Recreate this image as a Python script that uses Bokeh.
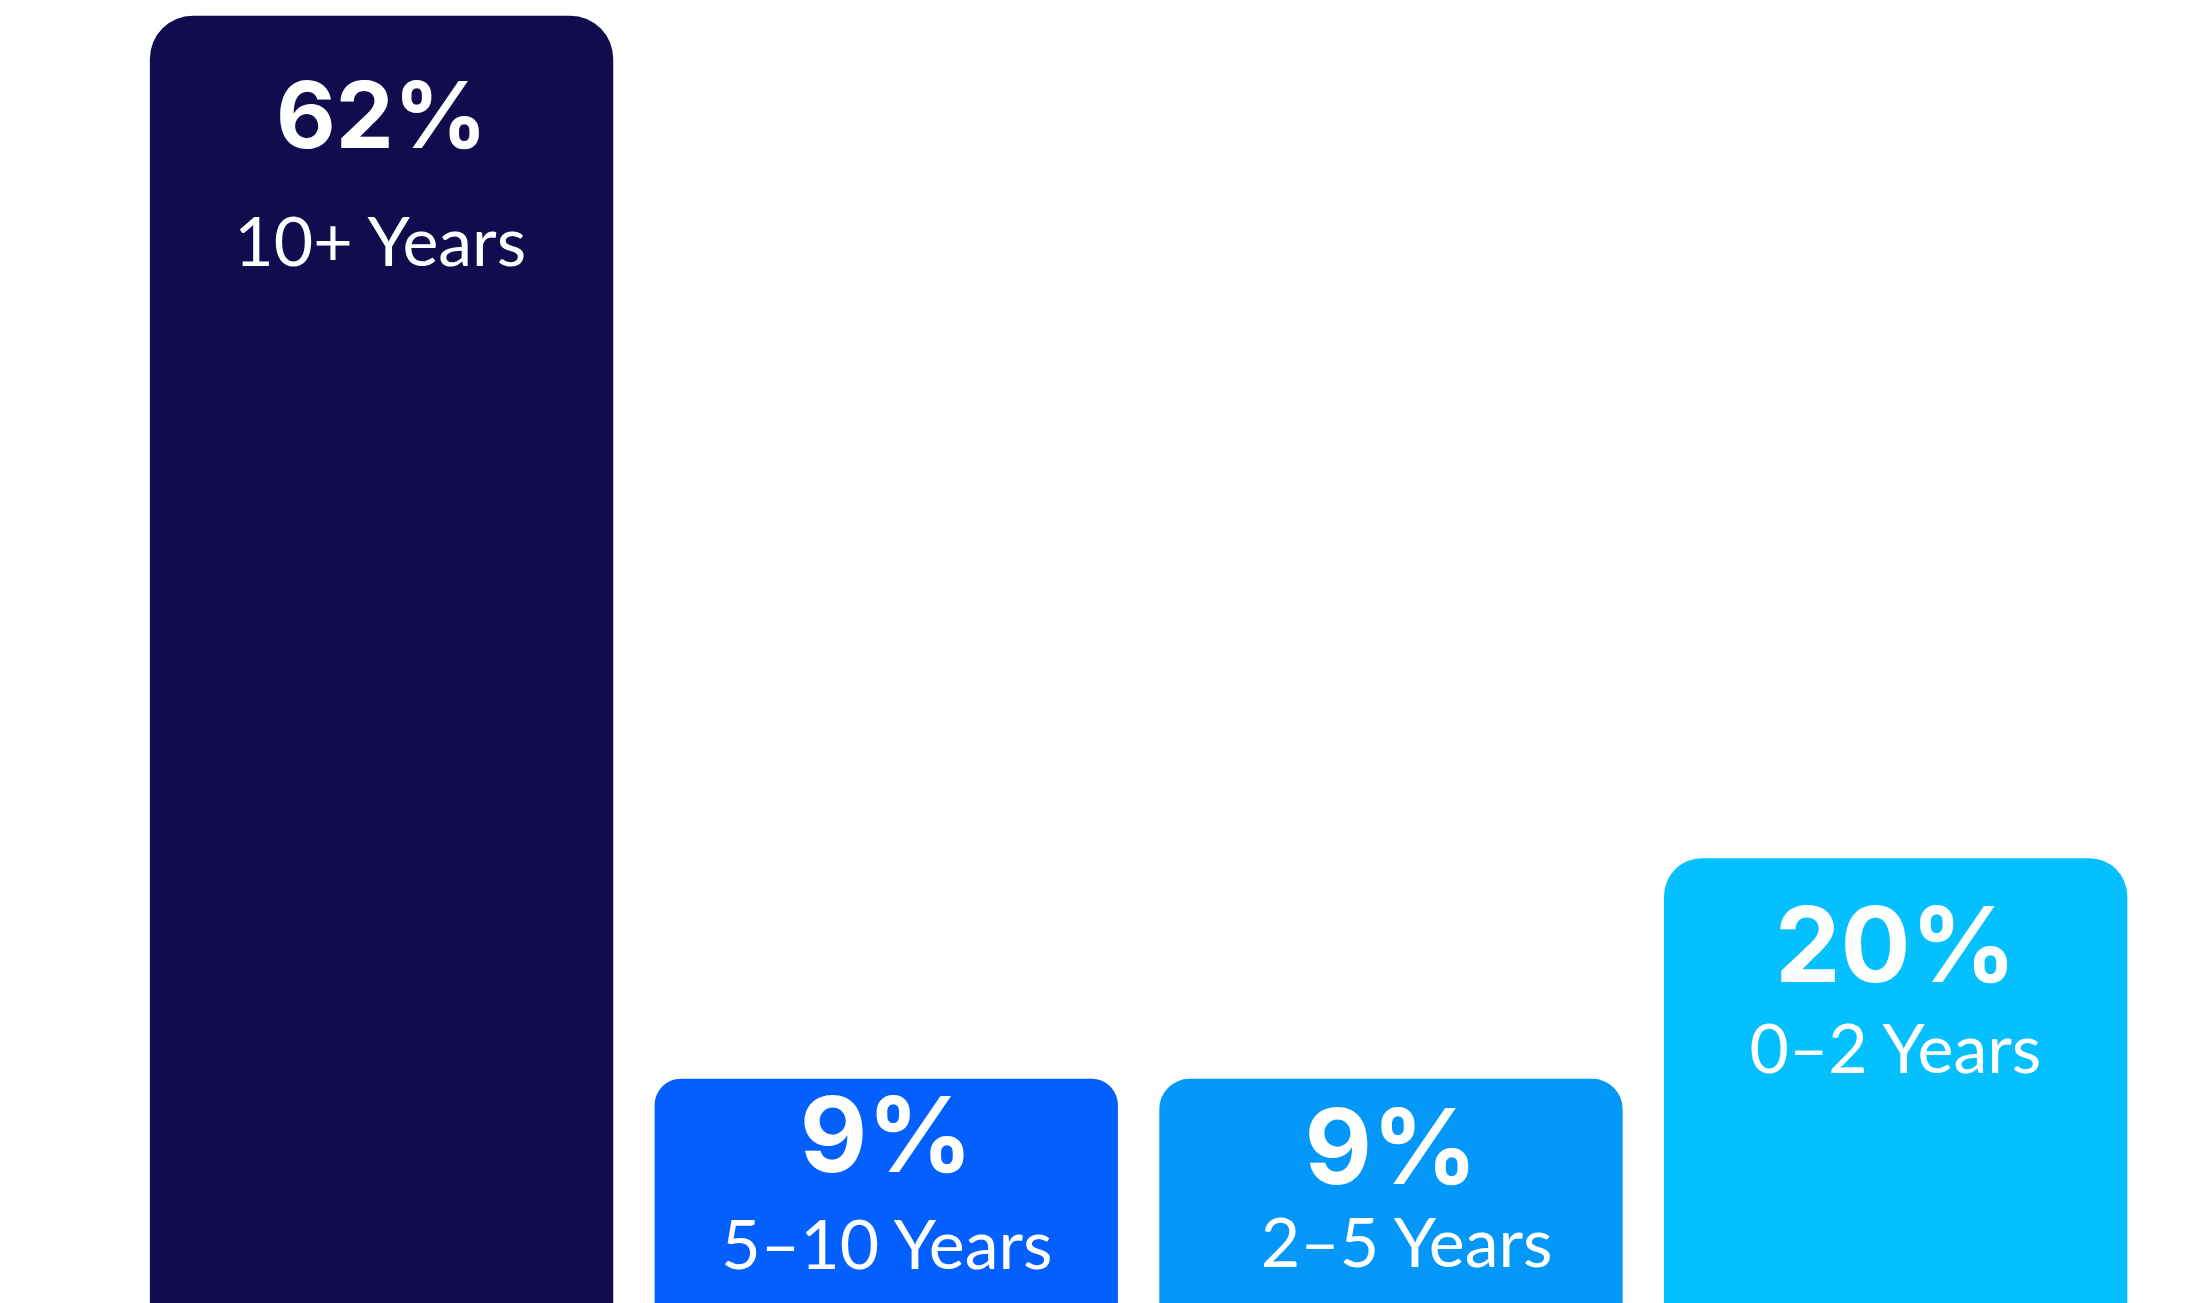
from bokeh.plotting import figure
from bokeh.models import Range1d
from bokeh.core.properties import value
from bokeh.embed import file_html
from bokeh.resources import INLINE

# ---- data ----
categories = ["10+ Years", "5\u201310 Years", "2\u20135 Years", "0\u20132 Years"]
shares = [62, 9, 9, 20]
pct_labels = ["62%", "9%", "9%", "20%"]

# ---- styles ----
colors = ["#100C4E", "#0360FF", "#0398F8", "#04C0FE"]
radii = [43, 26, 30, 38]
pct_px = [92, 104, 104, 104]
sub_px = 68
pct_dy = [135, 96, 108, 126]     # desired baseline distance below bar top
sub_dy = [250, 190, 188, 215]
sub_dx = [0, 2, 17, 1]
BASE_SHIFT = 0.39                # renderer places alphabetic baseline ~0.39em low

W, H = 2198, 1303
p = figure(width=W, height=H, output_backend="svg", toolbar_location=None,
           x_range=Range1d(-0.755, 3.600), y_range=Range1d(-2.2, 62.76),
           min_border=0, min_border_left=0, min_border_right=0,
           min_border_top=0, min_border_bottom=0)
p.xaxis.visible = False
p.yaxis.visible = False
p.grid.visible = False
p.outline_line_color = None
p.background_fill_color = "white"
p.border_fill_color = "white"

xs = list(range(len(categories)))
for i in xs:
    r = radii[i]
    p.vbar(x=[xs[i]], top=[shares[i]], bottom=-10, width=0.918,
           fill_color=colors[i], line_color=None, border_radius=(r, r, 0, 0))
    p.text(x=[xs[i]], y=[shares[i]], text=[pct_labels[i]],
           text_font=value("Inter"), text_font_style="bold",
           text_font_size=f"{pct_px[i]}px", text_color="white",
           text_align="center", text_baseline="alphabetic",
           y_offset=pct_dy[i] - BASE_SHIFT * pct_px[i])
    p.text(x=[xs[i]], y=[shares[i]], text=[categories[i]],
           text_font=value("Lato"), text_font_style="normal",
           text_font_size=f"{sub_px}px", text_color="white",
           text_align="center", text_baseline="alphabetic",
           x_offset=sub_dx[i], y_offset=sub_dy[i] - BASE_SHIFT * sub_px)

open("out.html", "w").write(file_html(p, INLINE))
